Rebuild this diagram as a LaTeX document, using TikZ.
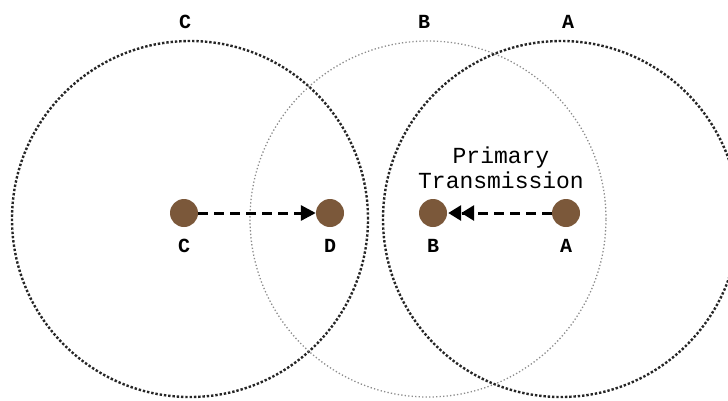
\documentclass[tikz,border=0pt]{standalone}
\usepackage{fontspec}
\setmonofont{Liberation Mono}
\usetikzlibrary{arrows.meta,positioning}

\def\cRange{(190, 219) circle (178pt)}
\def\bRange{(428, 219) circle (178pt)}
\def\aRange{(561, 219) circle (178pt)}
\definecolor{station fill}{RGB}{123,88,58}
\colorlet{range edge}{black!85}
\colorlet{faint edge}{black!45}
\tikzset{
  coverage/.style={draw=range edge, line width=2.4pt, dash pattern=on 2.4pt off 1.9pt},
  faint coverage/.style={draw=faint edge, line width=1.3pt, dash pattern=on 1.3pt off 2.2pt},
  link/.style={draw, line width=3pt, dash pattern=on 10pt off 6pt}
  }
\tikzstyle{station}=[circle,fill=station fill,minimum size=28pt,inner sep=0pt]
\tikzstyle{tag}=[font=\ttfamily\bfseries\fontsize{20}{20}\selectfont, inner sep=2pt]

\begin{document}
\begin{tikzpicture}[x=1pt, y=-1pt]

  \useasboundingbox (0, 0) rectangle (728, 400);

  \draw[coverage] \cRange;
  \draw[faint coverage] \bRange;
  \draw[coverage] \aRange;

  \foreach \pos/\name in {{(184, 213)/C}, {(330, 213)/D}, {(433, 213)/B}, {(566, 213)/A}} {
    \node[station] (\name) at \pos {};
    \node[tag, below=10pt of \name] (\name-tag) {\name};
  }

  \foreach \pos/\name in {{(185, 22)/C}, {(424, 22)/B}, {(568, 22)/A}} {
    \node[tag] (top-\name) at \pos {\name};
  }

  \node[font=\ttfamily\fontsize{23}{25}\selectfont, align=center] (primary) at (501, 168)
    {Primary\\Transmission};

  \draw[link, -{Triangle[length=15pt, width=15pt]}] (C) -- (D);
  \draw[link, shorten >=1pt, -{Triangle[length=13pt, width=15pt]Triangle[length=13pt, width=15pt]}] (A) -- (B);

\end{tikzpicture}
\end{document}
